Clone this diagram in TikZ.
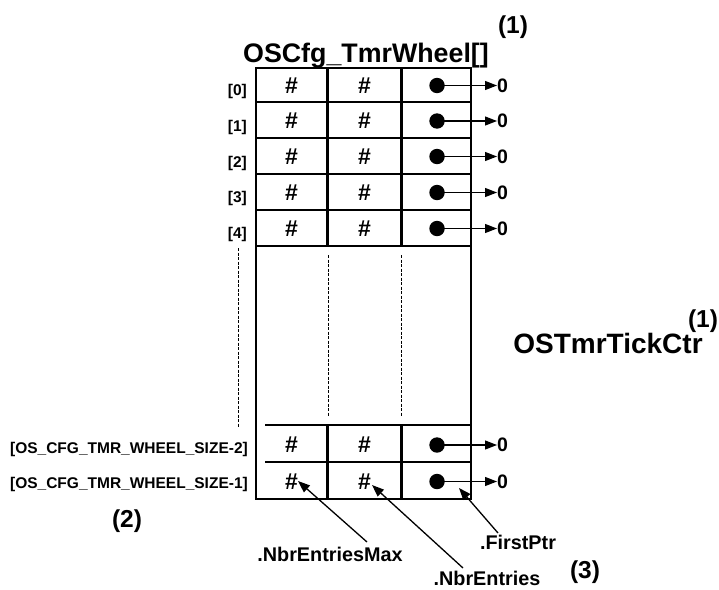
\documentclass[tikz,border=0pt]{standalone}
\usepackage{fontspec}
\setmainfont{Liberation Sans}
\usetikzlibrary{arrows.meta}
\begin{document}
\begin{tikzpicture}[x=1pt,y=-1pt,
  border/.style={line width=2.7pt},
  dsh/.style={line width=0.9pt, dash pattern=on 3pt off 1.5pt},
  txt/.style={inner sep=0pt, font=\bfseries},
  title/.style={txt, font=\bfseries\fontsize{26.8}{30}\selectfont},
  bigname/.style={txt, font=\bfseries\fontsize{28}{31}\selectfont},
  note/.style={txt, font=\bfseries\fontsize{24.5}{28}\selectfont},
  idx/.style={txt, font=\bfseries\fontsize{15.5}{18}\selectfont, anchor=base east},
  hsh/.style={txt, font=\bfseries\fontsize{23}{26}\selectfont},
  zero/.style={txt, font=\bfseries\fontsize{19.5}{22}\selectfont, anchor=west},
  fld/.style={txt, font=\bfseries\fontsize{19.8}{23}\selectfont, anchor=base},
  dot/.style={circle, fill=black, inner sep=0pt, minimum size=15.4pt},
  ptr/.style={-{Triangle[length=12pt,width=9pt]}, line width=1.2pt},
  lead/.style={-{Triangle[length=12pt,width=9pt]}, line width=1.3pt}]
\useasboundingbox (0,0) rectangle (719,589);

% titles
\node[title, anchor=base] (ttl) at (366,62) {OSCfg\_TmrWheel[]};
\node[note, anchor=base] (n1a) at (513,33) {(1)};
\node[bigname, anchor=base] (tick) at (608,353) {OSTmrTickCtr};
\node[note, anchor=base] (n1b) at (703,327) {(1)};
\node[note, anchor=base] (n2) at (127,527) {(2)};
\node[note, anchor=base] (n3) at (585,578) {(3)};

% table frame
\draw[border] (256,68) rectangle (471,499);
\foreach \y in {102,138,174,210,246} \draw[border] (256,\y) -- (471,\y);
\foreach \x in {327.5,401.5} {
  \draw[border] (\x,68) -- (\x,246);
  \draw[border] (\x,425) -- (\x,499);
}
\foreach \y in {425,462} \draw[border] (265,\y) -- (471,\y);

% dashed continuation lines
\draw[dsh] (238,248) -- (238,427);
\draw[dsh] (328,255) -- (328,417);
\draw[dsh] (401,255) -- (401,417);

% index labels
\node[idx] (i0) at (247,95) {[0]};
\node[idx] (i1) at (247,131) {[1]};
\node[idx] (i2) at (247,167) {[2]};
\node[idx] (i3) at (247,202) {[3]};
\node[idx] (i4) at (247,238) {[4]};
\node[idx] (im2) at (248,453) {[OS\_CFG\_TMR\_WHEEL\_SIZE-2]};
\node[idx] (im1) at (248,488) {[OS\_CFG\_TMR\_WHEEL\_SIZE-1]};

% rows
\foreach \n/\y in {0/85.5,1/121,2/156.5,3/192.5,4/228.5,5/445,6/481.5} {
  \node[hsh] (ha\n) at (291.5,\y) {\#};
  \node[hsh] (hb\n) at (364.5,\y) {\#};
  \node[dot] (d\n) at (437,\y) {};
  \node[zero] (z\n) at (497,\y) {0};
  \draw[ptr] (d\n.center) -- (z\n.west);
}

% field labels
\node[fld] (fMax) at (330,561) {.NbrEntriesMax};
\node[fld] (fFirst) at (518,549) {.FirstPtr};
\node[fld] (fNbr) at (487,585) {.NbrEntries};

\coordinate (sMax) at (367,542);
\coordinate (tMax) at (298,481);
\coordinate (sNbr) at (463,568);
\coordinate (tNbr) at (372,485);
\coordinate (sFirst) at (498,533);
\coordinate (tFirst) at (459,488);
\draw[lead] (sMax) -- (tMax);
\draw[lead] (sNbr) -- (tNbr);
\draw[lead] (sFirst) -- (tFirst);
\end{tikzpicture}
\end{document}
